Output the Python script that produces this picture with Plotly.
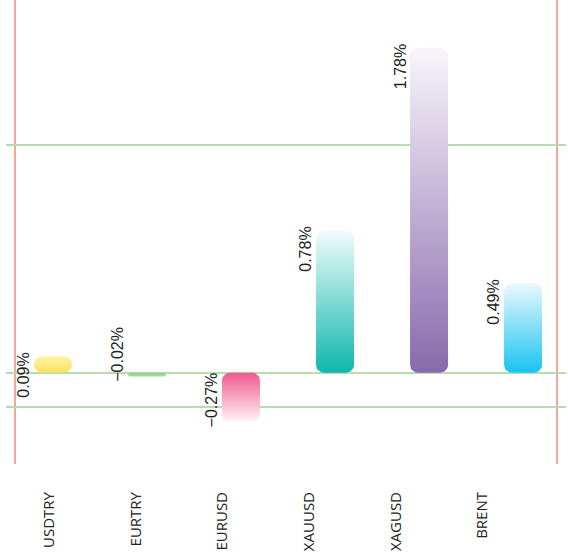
import math
import plotly.graph_objects as go

# ---- data ----
categories = ["USDTRY", "EURTRY", "EURUSD", "XAUUSD", "XAGUSD", "BRENT"]
values = [0.09, -0.02, -0.27, 0.78, 1.78, 0.49]
value_labels = ["0.09%", "\u22120.02%", "\u22120.27%", "0.78%", "1.78%", "0.49%"]
base_colors = ["#FDE25C", "#8FCF8C", "#EE5A8D", "#0DB7AD", "#8869AC", "#19C3F1"]
tip_colors = ["#FFF3A6", "#A6DBA3", "#FFF4F8", "#F2FCFB", "#F8F6FB", "#EAF8FE"]

# ---- layout constants ----
W, H = 568, 556
ML, MR, MT, MB = 6, 2, 0, 92
XR = [-0.5, 5.457]
YR = [-0.5, 2.042]
plot_w = W - ML - MR
plot_h = H - MT - MB
kx = plot_w / (XR[1] - XR[0])
ky = plot_h / (YR[1] - YR[0])
BAR_W = 0.404
R_PX = 8
GRID_VALS = [-0.186, 0, 1.248]


def rounded_rect(x0, x1, y0, y1):
    r = min(R_PX, (y1 - y0) * ky / 2, (x1 - x0) * kx / 2)
    rx, ry = r / kx, r / ky
    xs, ys = [], []
    corners = [
        (x1 - rx, y1 - ry, 0, 90),
        (x0 + rx, y1 - ry, 90, 180),
        (x0 + rx, y0 + ry, 180, 270),
        (x1 - rx, y0 + ry, 270, 360),
    ]
    for cx, cy, a0, a1 in corners:
        for k in range(11):
            a = math.radians(a0 + (a1 - a0) * k / 10)
            xs.append(cx + rx * math.cos(a))
            ys.append(cy + ry * math.sin(a))
    xs.append(xs[0])
    ys.append(ys[0])
    return xs, ys


fig = go.Figure()
for i, (cat, v) in enumerate(zip(categories, values)):
    lo, hi = min(0, v), max(0, v)
    xs, ys = rounded_rect(i - BAR_W / 2, i + BAR_W / 2, lo, hi)
    if v >= 0:
        cs = [[0, base_colors[i]], [1, tip_colors[i]]]
    else:
        cs = [[0, tip_colors[i]], [1, base_colors[i]]]
    fig.add_trace(go.Scatter(
        x=xs, y=ys, mode="lines", fill="toself",
        line=dict(width=0, color="rgba(0,0,0,0)"),
        fillgradient=dict(type="vertical", colorscale=cs, start=lo, stop=hi),
        hoverinfo="skip", showlegend=False,
    ))
    fig.add_annotation(
        x=i - 0.31, y=v, xref="x", yref="y",
        text=value_labels[i], showarrow=False, textangle=-90,
        xanchor="center", yanchor="top" if v >= 0 else "bottom",
        yshift=6 if v >= 0 else -7,
        font=dict(family="Liberation Sans, Arial", size=16, color="#222222"),
    )

# invisible trace for the label axis
fig.add_trace(go.Scatter(x=[0, 5], y=[0, 0], xaxis="x2", mode="markers",
                         marker=dict(opacity=0), hoverinfo="skip", showlegend=False))

for xp in [(15 - ML) / plot_w, (557 - ML) / plot_w]:
    fig.add_shape(type="line", xref="paper", yref="paper", x0=xp, x1=xp, y0=0, y1=1,
                  line=dict(color="#F2A893", width=2), layer="below")

fig.update_layout(
    width=W, height=H,
    margin=dict(l=ML, r=MR, t=MT, b=MB),
    paper_bgcolor="white", plot_bgcolor="white",
    xaxis=dict(range=XR, showgrid=False, zeroline=False, showticklabels=False,
               ticks="", showline=False, fixedrange=True),
    xaxis2=dict(range=[-0.496, 5.963], overlaying="x", anchor="y", side="bottom",
                tickmode="array", tickvals=list(range(len(categories))), ticktext=categories,
                tickangle=-90, showgrid=False, zeroline=False, showline=False, ticks="",
                ticklabelstandoff=24, fixedrange=True,
                tickfont=dict(family="Open Sans", size=15, color="#222222")),
    yaxis=dict(range=YR, tickmode="array", tickvals=GRID_VALS, showticklabels=False,
               showgrid=True, gridcolor="#B8DCAF", gridwidth=2, zeroline=False, ticks="",
               fixedrange=True),
)

fig.write_html(
    "out.html",
    config={"displayModeBar": False},
    post_script="document.body.style.margin='0';document.body.style.overflow='hidden';",
)
